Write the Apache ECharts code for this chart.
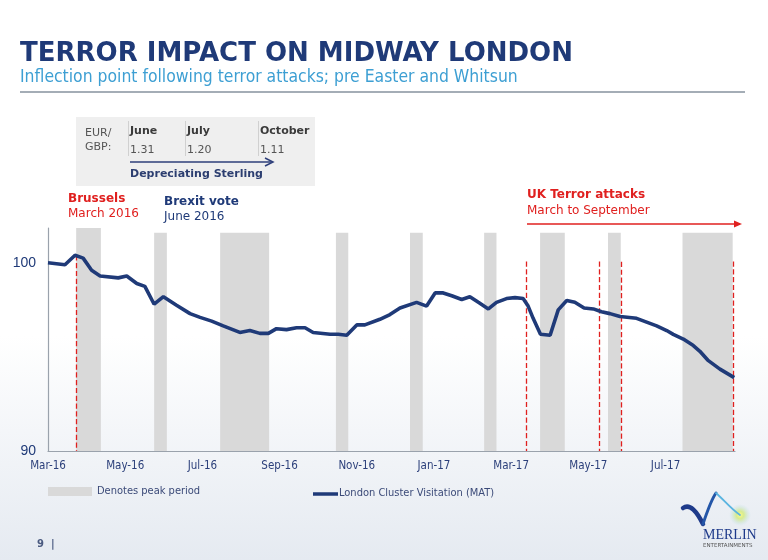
<!DOCTYPE html>
<html>
<head>
<meta charset="utf-8">
<script src="https://cdn.jsdelivr.net/npm/echarts@6/dist/echarts.min.js"></script>
<style>html,body{margin:0;padding:0;}#c{width:768px;height:560px;}</style>
</head>
<body>
<div id="c"></div>
<script>
// ---- data (x in months since Mar-16) ----
var tickLabels = ['Mar-16','May-16','Jul-16','Sep-16','Nov-16','Jan-17','Mar-17','May-17','Jul-17'];
var lineX = [0,0.44,0.70,0.91,1.13,1.35,1.82,2.04,2.30,2.51,2.75,2.99,3.33,3.68,3.94,4.24,4.54,4.97,5.23,5.49,5.71,5.92,6.18,6.44,6.66,6.87,7.31,7.52,7.74,8.00,8.21,8.60,8.86,9.12,9.55,9.81,10.03,10.24,10.46,10.72,10.93,11.15,11.41,11.62,11.88,12.10,12.31,12.44,12.57,12.76,13.01,13.22,13.44,13.65,13.89,14.13,14.34,14.56,14.82,15.25,15.51,15.77,16.03,16.20,16.46,16.72,16.89,17.11,17.41,17.78];
var visitation = [100.0,99.9,100.4,100.25,99.6,99.3,99.2,99.3,98.9,98.75,97.8,98.2,97.75,97.3,97.1,96.9,96.65,96.3,96.4,96.25,96.25,96.5,96.45,96.55,96.55,96.3,96.2,96.2,96.15,96.7,96.7,97.0,97.25,97.6,97.9,97.7,98.4,98.4,98.25,98.05,98.2,97.9,97.55,97.9,98.1,98.15,98.1,97.7,97.05,96.2,96.15,97.5,98.0,97.9,97.6,97.55,97.4,97.3,97.15,97.05,96.85,96.65,96.4,96.2,95.95,95.6,95.3,94.8,94.35,93.9];
var peakStart = [0.73,2.75,4.46,7.46,9.38,11.30,12.75,14.51,16.44];
var peakEnd   = [1.37,3.08,5.73,7.78,9.71,11.62,13.39,14.84,17.74];
var peakTop   = [101.85,101.6,101.6,101.6,101.6,101.6,101.6,101.6,101.6];
var attackX   = [0.73,12.40,14.29,14.84,17.76];
var attackTop = [100.4,100.07,100.07,100.05,100.07];
var fxMonths = ['June','July','October'];
var fxRates  = ['1.31','1.20','1.11'];

var NAVY = '#1f3a78', RED = '#e0201f', GREY = '#d9d9d9';
var COND = '"DejaVu Sans Condensed","Liberation Sans Narrow",sans-serif';
var VERD = '"DejaVu Sans",Verdana,sans-serif';

var pts = lineX.map(function(x,i){return [x, visitation[i]];});
var areas = peakStart.map(function(s,i){return [{xAxis:s,yAxis:90},{xAxis:peakEnd[i],yAxis:peakTop[i]}];});
var vlines = attackX.map(function(x,i){return [{coord:[x,attackTop[i]]},{coord:[x,90]}];});

var g = [];
function txt(x,y,t,font,fill){
  g.push({type:'text',style:{text:t,x:x,y:y,font:font,fill:fill,textVerticalAlign:'top'},z:10});
}
// title
txt(20,41,'TERROR IMPACT ON MIDWAY LONDON','bold 26px '+VERD,NAVY);
txt(20,69,'Inflection point following terror attacks; pre Easter and Whitsun','17.4px '+COND,'#3d9fd3');
g.push({type:'rect',shape:{x:20,y:91,width:725,height:2},style:{fill:'#a4adb6'}});
// FX box
g.push({type:'rect',shape:{x:76,y:117,width:239,height:69},style:{fill:'#efefef'}});
txt(85,128,'EUR/','11px '+VERD,'#555');
txt(85,142,'GBP:','11px '+VERD,'#555');
var fxX = [130,187,260];
fxMonths.forEach(function(m,i){
  g.push({type:'rect',shape:{x:fxX[i]-2,y:121,width:1,height:35},style:{fill:'#d0d0d0'}});
  txt(fxX[i],126,m,'bold 11px '+VERD,'#3a3a3a');
  txt(fxX[i],145,fxRates[i],'11px '+VERD,'#555');
});
g.push({type:'line',shape:{x1:130,y1:162,x2:272,y2:162},style:{stroke:'#2e3f7a',lineWidth:1.5}});
g.push({type:'polyline',shape:{points:[[265,158],[273,162],[265,166]]},style:{stroke:'#2e3f7a',lineWidth:1.5,fill:null}});
txt(130,169,'Depreciating Sterling','bold 11px '+VERD,'#2c3e70');
// annotations
txt(68,193,'Brussels','bold 12px '+VERD,RED);
txt(68,208,'March 2016','12px '+VERD,RED);
txt(164,196,'Brexit vote','bold 12px '+VERD,NAVY);
txt(164,211,'June 2016','12px '+VERD,NAVY);
txt(527,189,'UK Terror attacks','bold 12px '+VERD,RED);
txt(527,205,'March to September','12px '+VERD,RED);
g.push({type:'line',shape:{x1:527,y1:224,x2:740,y2:224},style:{stroke:RED,lineWidth:1.3}});
g.push({type:'polygon',shape:{points:[[734,220.5],[742,224],[734,227.5]]},style:{fill:RED}});
// legend
g.push({type:'rect',shape:{x:48,y:487,width:44,height:9},style:{fill:GREY}});
txt(97,486,'Denotes peak period','11px '+COND,'#3b4a78');
g.push({type:'line',shape:{x1:313,y1:494,x2:338,y2:494},style:{stroke:NAVY,lineWidth:3.5}});
txt(339,488,'London Cluster Visitation (MAT)','11px '+COND,'#3b4a78');
// footer
txt(37,539,'9  |','bold 10px '+VERD,'#4a5a80');
// logo
g.push({type:'circle',shape:{cx:740,cy:515,r:11},style:{fill:{type:'radial',x:0.5,y:0.5,r:0.5,colorStops:[{offset:0,color:'rgba(255,250,140,1)'},{offset:0.35,color:'rgba(210,235,120,0.8)'},{offset:1,color:'rgba(180,220,240,0)'}]}}});
g.push({type:'bezierCurve',shape:{x1:683,y1:508,cpx1:690,cpy1:503,cpx2:697,cpy2:512,x2:703,y2:524},style:{stroke:'#1e3a8a',lineWidth:4.5,fill:null,lineCap:'round'}});
g.push({type:'bezierCurve',shape:{x1:703,y1:524,cpx1:707,cpy1:512,cpx2:711,cpy2:500,x2:716,y2:493},style:{stroke:'#2456a8',lineWidth:3,fill:null,lineCap:'round'}});
g.push({type:'bezierCurve',shape:{x1:716,y1:493,cpx1:724,cpy1:500,cpx2:731,cpy2:509,x2:740,y2:515},style:{stroke:'#5ab4e0',lineWidth:1.8,fill:null,lineCap:'round'}});
txt(703,528,'MERLIN','14px "Liberation Serif",serif','#1e3a8a');
txt(703,543,'ENTERTAINMENTS','5.5px '+VERD,'#555');

var chart = echarts.init(document.getElementById('c'));
chart.setOption({
  backgroundColor:{type:'linear',x:0,y:0,x2:0,y2:1,colorStops:[{offset:0,color:'#ffffff'},{offset:0.6,color:'#ffffff'},{offset:1,color:'#e5eaf1'}]},
  animation:false,
  graphic:{elements:g},
  grid:{left:48,right:33,top:228,bottom:109},
  xAxis:{type:'value',min:0,max:17.8,interval:2,
    axisLine:{lineStyle:{color:'#9aa2ac',width:1.2}},axisTick:{show:false},splitLine:{show:false},
    axisLabel:{showMaxLabel:false,margin:9,color:'#2b3f7a',fontFamily:COND,fontSize:11.5,
      formatter:function(v){var i=Math.round(v/2);return tickLabels[i]||'';}}},
  yAxis:{type:'value',min:90,max:101.85,interval:10,
    axisLine:{show:true,lineStyle:{color:'#9aa2ac',width:1.2}},axisTick:{show:false},splitLine:{show:false},
    axisLabel:{showMaxLabel:false,margin:12,color:NAVY,fontFamily:'"Liberation Sans",sans-serif',fontSize:14}},
  series:[{type:'line',data:pts,symbol:'none',lineStyle:{color:NAVY,width:3.6},z:5,
    markArea:{silent:true,itemStyle:{color:GREY},data:areas},
    markLine:{silent:true,symbol:'none',label:{show:false},lineStyle:{color:RED,type:'dashed',width:1.3},data:vlines}
  }]
});
</script>
</body>
</html>
